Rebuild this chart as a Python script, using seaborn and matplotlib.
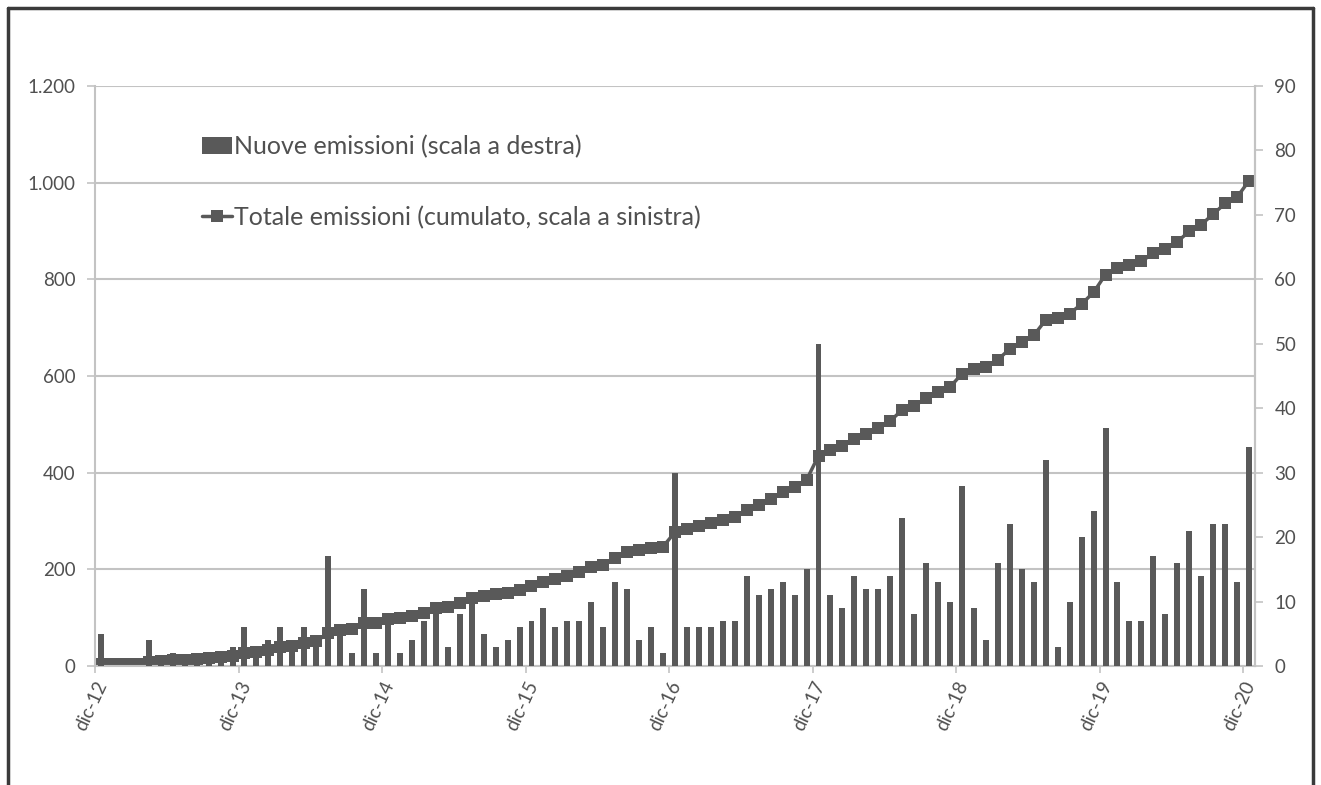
import numpy as np
import pandas as pd
import matplotlib
matplotlib.use("Agg")
import matplotlib.pyplot as plt
import seaborn as sns
from matplotlib.patches import Patch
from matplotlib.lines import Line2D

# ---- data (monthly, dic-12 .. dic-20) ----
anni = ["dic-12", "dic-13", "dic-14", "dic-15", "dic-16",
        "dic-17", "dic-18", "dic-19", "dic-20"]
nuove_emissioni = [
    5, 0, 0, 0, 4, 1, 2, 1, 2, 1, 2, 3,          # dic-12 .. nov-13
    6, 2, 4, 6, 3, 6, 3, 17, 6, 2, 12, 2,        # dic-13 .. nov-14
    7, 2, 4, 7, 9, 3, 8, 10, 5, 3, 4, 6,         # dic-14 .. nov-15
    7, 9, 6, 7, 7, 10, 6, 13, 12, 4, 6, 2,       # dic-15 .. nov-16
    30, 6, 6, 6, 7, 7, 14, 11, 12, 13, 11, 15,   # dic-16 .. nov-17
    50, 11, 9, 14, 12, 12, 14, 23, 8, 16, 13, 10,  # dic-17 .. nov-18
    28, 9, 4, 16, 22, 15, 13, 32, 3, 10, 20, 24,   # dic-18 .. nov-19
    37, 13, 7, 7, 17, 8, 16, 21, 14, 22, 22, 13,   # dic-19 .. nov-20
    34,                                            # dic-20
]
totale_emissioni = np.cumsum(nuove_emissioni)  # cumulato

lab_bar = "Nuove emissioni (scala a destra)"
lab_line = "Totale emissioni (cumulato, scala a sinistra)"

df = pd.DataFrame({
    "mese": np.arange(len(nuove_emissioni)),
    "nuove": nuove_emissioni,
    "totale": totale_emissioni,
})

sns.set_theme(style="white")
plt.rcParams["font.family"] = ["Lato", "DejaVu Sans"]

DARK = "#595959"
GRID = "#c3c3c3"
TXT = "#505050"

W, H = 1321, 785
fig = plt.figure(figsize=(W / 100, H / 100), dpi=100)
L, R, T, B = 95, 1255, 86, 666
ax = fig.add_axes([L / W, 1 - B / H, (R - L) / W, (B - T) / H])
ax2 = ax.twinx()

# bars on secondary (right) axis
sns.barplot(data=df, x="mese", y="nuove", ax=ax2, color=DARK, width=0.5,
            saturation=1, native_scale=True, errorbar=None, linewidth=0)
# cumulative line on primary (left) axis
sns.lineplot(data=df, x="mese", y="totale", ax=ax, color=DARK, linewidth=2.5,
             marker="s", markersize=8.5, markeredgewidth=0)

n = len(nuove_emissioni)
ax.set_xlim(-0.5, n - 0.5)
ax.set_ylim(0, 1200)
ax2.set_ylim(0, 90)

ax.set_yticks(range(0, 1201, 200))
ax.set_yticklabels([f"{v:,}".replace(",", ".") for v in range(0, 1201, 200)])
ax2.set_yticks(range(0, 91, 10))
ax.set_xticks(np.arange(0, n, 12) - 0.5)
ax.set_xticklabels(anni, rotation=65, ha="right", rotation_mode="anchor")

for a in (ax, ax2):
    a.set_xlabel("")
    a.set_ylabel("")
    a.spines["top"].set_visible(False)

ax.yaxis.grid(True, color=GRID, linewidth=1.5)
ax.xaxis.grid(False)
ax.set_axisbelow(True)
for s in ("left", "bottom", "right"):
    ax.spines[s].set_color(GRID)
    ax.spines[s].set_linewidth(1.5)
for s in ("left", "bottom"):
    ax2.spines[s].set_visible(False)
ax2.spines["right"].set_color(GRID)
ax2.spines["right"].set_linewidth(1.5)

ax.tick_params(axis="y", direction="out", length=6, width=1.2, color=GRID,
               labelsize=13.5, labelcolor=TXT, pad=8, left=True)
ax.tick_params(axis="x", direction="out", length=5, width=1.2, color=GRID,
               labelsize=13.5, labelcolor=TXT, pad=4, bottom=True)
ax2.tick_params(axis="y", direction="out", length=6, width=1.2, color=GRID,
                labelsize=13.5, labelcolor=TXT, pad=8, right=True)

handles = [
    Patch(facecolor=DARK, edgecolor="none", label=lab_bar),
    Line2D([0], [0], color=DARK, linewidth=2.5, marker="s", markersize=8,
           markeredgewidth=0, label=lab_line),
]
leg = ax2.legend(handles=handles, loc="upper left",
                 bbox_to_anchor=(0.075, 0.95), frameon=False,
                 fontsize=18, labelspacing=1.9, handlelength=1.2,
                 handletextpad=0.1, labelcolor=TXT, borderpad=0.3)

# outer frame
FR = "#3a3a3a"
x0, x1, y0 = 8 / W, 1313 / W, 1 - 8 / H
fig.add_artist(Line2D([x0, x1], [y0, y0], transform=fig.transFigure, color=FR, lw=2.5))
fig.add_artist(Line2D([x0, x0], [0, y0], transform=fig.transFigure, color=FR, lw=2.5))
fig.add_artist(Line2D([x1, x1], [0, y0], transform=fig.transFigure, color=FR, lw=2.5))

fig.savefig("out.png", dpi=100, facecolor="white")
